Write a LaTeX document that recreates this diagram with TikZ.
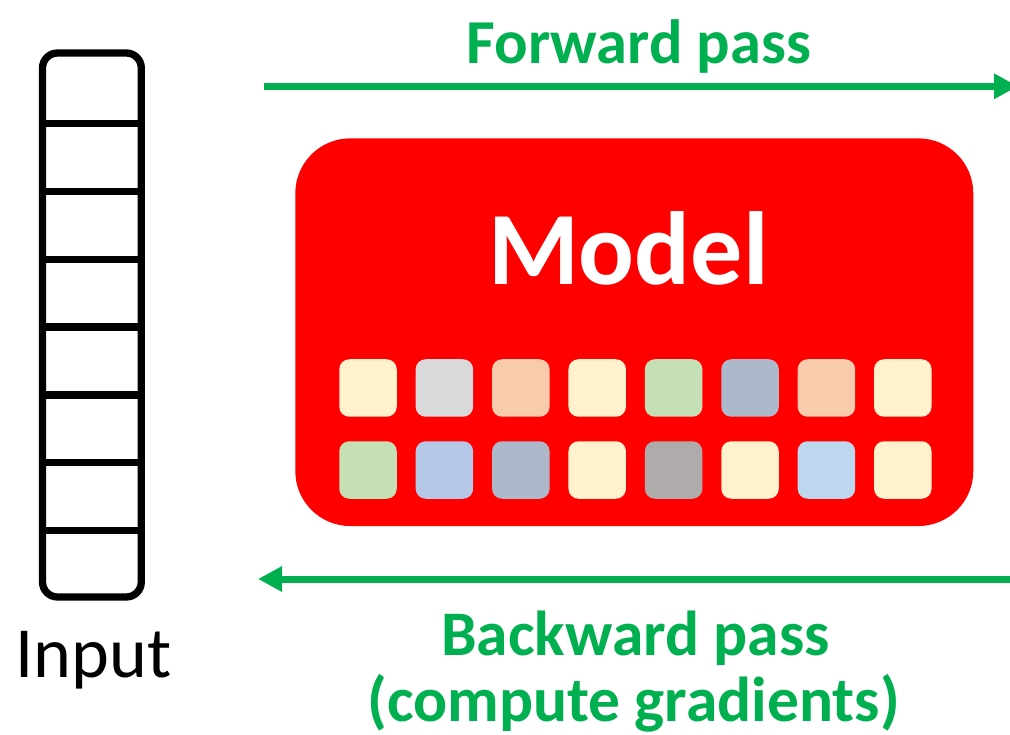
\documentclass[tikz,border=0pt]{standalone}
\usepackage{fontspec}
\setmainfont{Carlito}
\usetikzlibrary{arrows.meta}
\definecolor{gr}{HTML}{00B050}
\definecolor{cY}{HTML}{FFF2CC}
\definecolor{cG}{HTML}{D9D9D9}
\definecolor{cO}{HTML}{F8CBAD}
\definecolor{cL}{HTML}{C5E0B4}
\definecolor{cS}{HTML}{ADB9CA}
\definecolor{cB}{HTML}{B4C7E7}
\definecolor{cT}{HTML}{AFABAB}
\definecolor{cC}{HTML}{BDD7EE}
\tikzset{
  greentext/.style={text=gr, anchor=base, inner sep=0pt, font=\fontsize{63.5}{70}\selectfont\bfseries},
  passarrow/.style={draw=gr, line width=7pt, -{Triangle[length=24pt,width=24pt]}},
  cell/.style={rectangle, rounded corners=10pt, minimum width=57.5pt, minimum height=57.5pt, inner sep=0pt},
  inputcol/.style={draw=black, line width=7.3pt, rectangle, rounded corners=15pt, minimum width=98.8pt, minimum height=544pt, inner sep=0pt, outer sep=0pt},
  modelbox/.style={fill=red, rectangle, rounded corners=55pt, minimum width=678pt, minimum height=387.7pt, inner sep=0pt},
}
\begin{document}
\begin{tikzpicture}[x=1pt,y=-1pt]
\clip (0,0) rectangle (1010,735);
\fill[white] (0,0) rectangle (1010,735);
% input column
\node[inputcol] (input) at (91.9,325) {};
\foreach \k in {0,...,6} {
  \draw[line width=7.3pt] ([yshift={-(123.7+67.8*\k-53)*1pt}]input.north west) -- ([yshift={-(123.7+67.8*\k-53)*1pt}]input.north east);
}
\node[anchor=base, inner sep=0pt, font=\fontsize{72}{80}\selectfont] (inputlabel) at (93.7,677.3) {Input};
% model
\node[modelbox] (model) at (634.3,332.2) {};
\node[anchor=base, inner sep=0pt, text=white, font=\fontsize{104}{110}\selectfont\bfseries] (modellabel) at (628.3,285) {Model};
% cells
\foreach \c [count=\i from 0] in {cY,cG,cO,cY,cL,cS,cO,cY} {
  \node[cell, fill=\c] (a\i) at (368+76.4*\i,388) {};
}
\foreach \c [count=\i from 0] in {cL,cB,cS,cY,cT,cY,cC,cY} {
  \node[cell, fill=\c] (b\i) at (368+76.4*\i,470) {};
}
% arrows
\coordinate (fstart) at (264,86.3);
\coordinate (fend) at (1018,86.3);
\draw[passarrow] (fstart) -- (fend);
\coordinate (bstart) at (1020,579);
\coordinate (bend) at (258,579);
\draw[passarrow] (bstart) -- (bend);
\node[greentext, font=\fontsize{62.5}{70}\selectfont\bfseries] (fwd) at (639,63.3) {Forward pass};
\node[greentext] (bwd) at (635.5,655) {Backward pass};
\node[greentext] (bwd2) at (633.5,721) {(compute gradients)};
\end{tikzpicture}
\end{document}
